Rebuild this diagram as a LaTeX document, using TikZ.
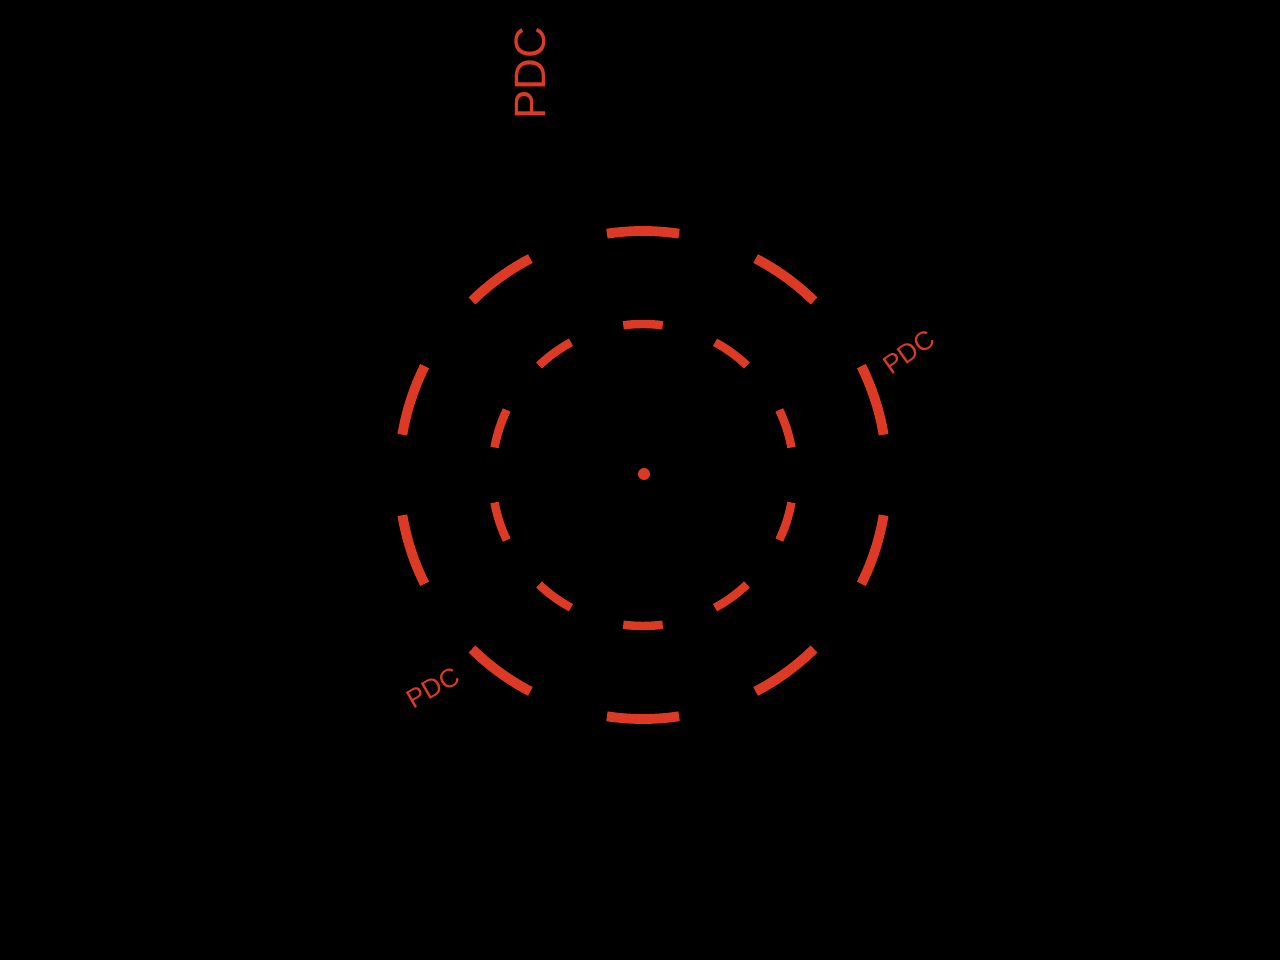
\documentclass[tikz,border=0pt]{standalone}
\usepackage{fontspec}
\setmainfont{Liberation Sans}
\usepackage{tikz}
\usetikzlibrary{positioning}
\definecolor{pdcred}{RGB}{221,58,38}

\begin{document}
\begin{tikzpicture}[
  ring/.style={draw=pdcred, line width=5.6pt},
  innerring/.style={draw=pdcred, line width=4.8pt},
  tag/.style={text=pdcred, font=\fontsize{15}{15}\selectfont, inner sep=1pt},
  bigtag/.style={text=pdcred, font=\fontsize{25}{25}\selectfont, inner sep=1pt}
]
% background and frame
\fill[black] (-12.86,-9.70) rectangle (12.74,9.50);
\useasboundingbox (-12.86,-9.70) rectangle (12.74,9.50);

% outer ring, 10 dashes
\foreach \a in {90,54,18,-18,-54,-90,-126,-162,162,126}
  \draw[ring] (\a-8.5:4.88) arc[start angle=\a-8.5, end angle=\a+8.5, radius=4.88];

% inner ring, 10 dashes
\foreach \a in {90,54,18,-18,-54,-90,-126,-162,162,126}
  \draw[innerring] (\a-7.5:3.02) arc[start angle=\a-7.5, end angle=\a+7.5, radius=3.02];

% centre mark
\node[circle, fill=pdcred, inner sep=0pt, minimum size=0.24cm] (hub) at (0.02,0.02) {};

% labels
\node[bigtag, rotate=90] (pdctop)   at (-2.26,8.04) {PDC};
\node[tag, rotate=35]    (pdcright) at (5.32,2.46)  {PDC};
\node[tag, rotate=30]    (pdcleft)  at (-4.2,-4.26) {PDC};
\end{tikzpicture}
\end{document}
